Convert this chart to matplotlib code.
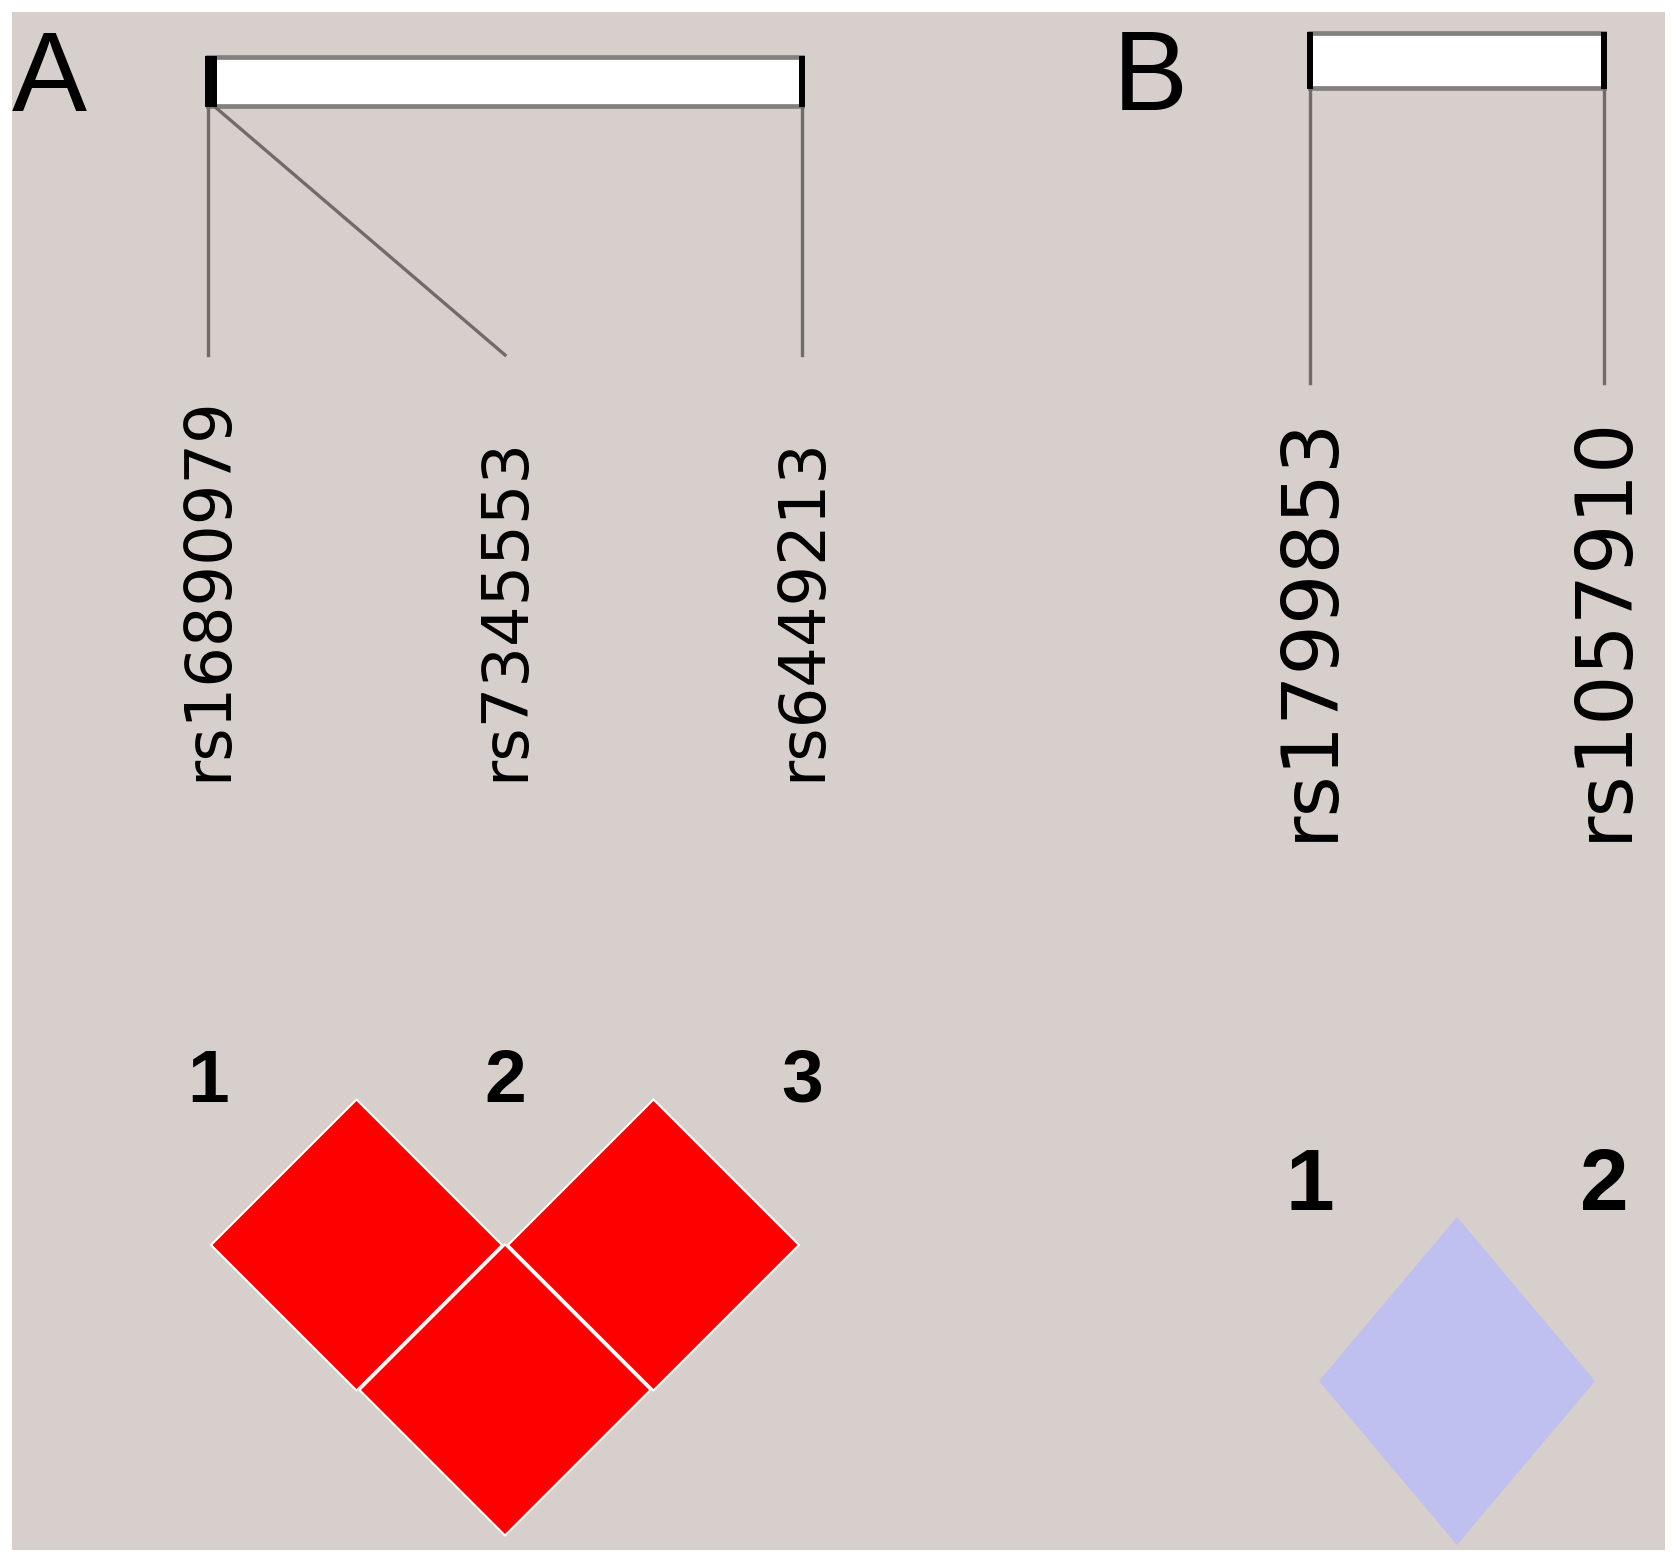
import matplotlib
matplotlib.use("Agg")
import matplotlib.pyplot as plt
from matplotlib.patches import Rectangle, Polygon

# ---------------- data ----------------
snps_A = ["rs16890979", "rs7345553", "rs6449213"]
phys_A = [0.0, 0.01, 1.0]            # relative physical position on the bar
pairs_A = [(0, 1), (1, 2), (0, 2)]
dprime_A = [1.0, 1.0, 1.0]
lod_sig_A = [True, True, True]

snps_B = ["rs1799853", "rs1057910"]
phys_B = [0.0, 1.0]
pairs_B = [(0, 1)]
dprime_B = [1.0]
lod_sig_B = [False]

panel_labels = ["A", "B"]

# ---------------- style ----------------
BG = "#d6cfcb"
LINE = "#716b6b"
BAR_EDGE = "#858080"
RED = "#ff0000"
LAV = "#c0c0f0"
PINK = "#ffc0cb"
WHITE = "#ffffff"


def ld_color(dp, sig):
    if dp >= 1.0 and sig:
        return RED
    if dp >= 1.0 and not sig:
        return LAV
    if sig:
        return PINK
    return WHITE


W, H = 1677, 1563
fig = plt.figure(figsize=(W / 100, H / 100), dpi=100)
fig.patch.set_facecolor("white")
ax = fig.add_axes([0, 0, 1, 1])
ax.set_xlim(0, W)
ax.set_ylim(H, 0)
ax.axis("off")

ax.add_patch(Rectangle((12, 12), 1653, 1538, facecolor=BG, edgecolor="none", zorder=0))


def draw_panel(snps, phys, pairs, dps, sigs, cfg):
    n = len(snps)
    xs = [cfg["x0"] + i * cfg["spacing"] for i in range(n)]
    bl, br = xs[0], xs[-1]
    bt, bb = cfg["bar_y"]
    # bar
    ax.add_patch(Rectangle((bl, bt), br - bl, bb - bt, facecolor="white",
                           edgecolor=BAR_EDGE, lw=3.4, zorder=2))
    tick_x = [bl + p * (br - bl) for p in phys]
    for tx in tick_x:
        ax.plot([tx, tx], [bt - 1, bb + 1], color="black", lw=4.3,
                solid_capstyle="butt", zorder=3)
    # connector lines
    for tx, lx in zip(tick_x, xs):
        ax.plot([tx, lx], [bb, cfg["line_end"]], color=LINE, lw=2.4, zorder=2)
    # SNP names
    for lx, name in zip(xs, snps):
        ax.text(lx, cfg["label_y"], name, rotation=90, ha="center", va="bottom",
                fontsize=cfg["label_fs"], family="DejaVu Sans", color="black", zorder=4)
    # numbers
    for i, lx in enumerate(xs):
        ax.text(lx, cfg["num_y"], str(i + 1), ha="center", va="baseline",
                fontsize=cfg["num_fs"], family="Liberation Sans", fontweight="bold",
                color="black", zorder=4)
    # LD cells
    hx, hy = cfg["half"]
    for (i, j), dp, sg in zip(pairs, dps, sigs):
        cx = (xs[i] + xs[j]) / 2
        cy = cfg["row1_y"] + (j - i - 1) * cfg["row_step"]
        poly = Polygon([(cx, cy - hy), (cx + hx, cy), (cx, cy + hy), (cx - hx, cy)],
                       closed=True, facecolor=ld_color(dp, sg),
                       edgecolor=cfg["cell_edge"], lw=cfg["cell_lw"], zorder=3)
        ax.add_patch(poly)
    # panel letter
    ax.text(cfg["letter_xy"][0], cfg["letter_xy"][1], cfg["letter"], ha="left",
            va="baseline", fontsize=81, family="Liberation Sans", color="black", zorder=4)


cfg_A = dict(x0=208, spacing=297, bar_y=(57, 106), line_end=355,
             label_y=781, label_fs=46, num_y=1102, num_fs=54,
             row1_y=1245, row_step=145, half=(145.5, 145.5),
             cell_edge="white", cell_lw=1.5,
             letter=panel_labels[0], letter_xy=(12, 111))
cfg_B = dict(x0=1310, spacing=294, bar_y=(33, 88), line_end=383,
             label_y=841, label_fs=57, num_y=1210, num_fs=63,
             row1_y=1381, row_step=150, half=(138, 164),
             cell_edge="none", cell_lw=0,
             letter=panel_labels[1], letter_xy=(1113, 110))

draw_panel(snps_A, phys_A, pairs_A, dprime_A, lod_sig_A, cfg_A)
draw_panel(snps_B, phys_B, pairs_B, dprime_B, lod_sig_B, cfg_B)

fig.savefig("out.png", dpi=100, facecolor=fig.get_facecolor())
